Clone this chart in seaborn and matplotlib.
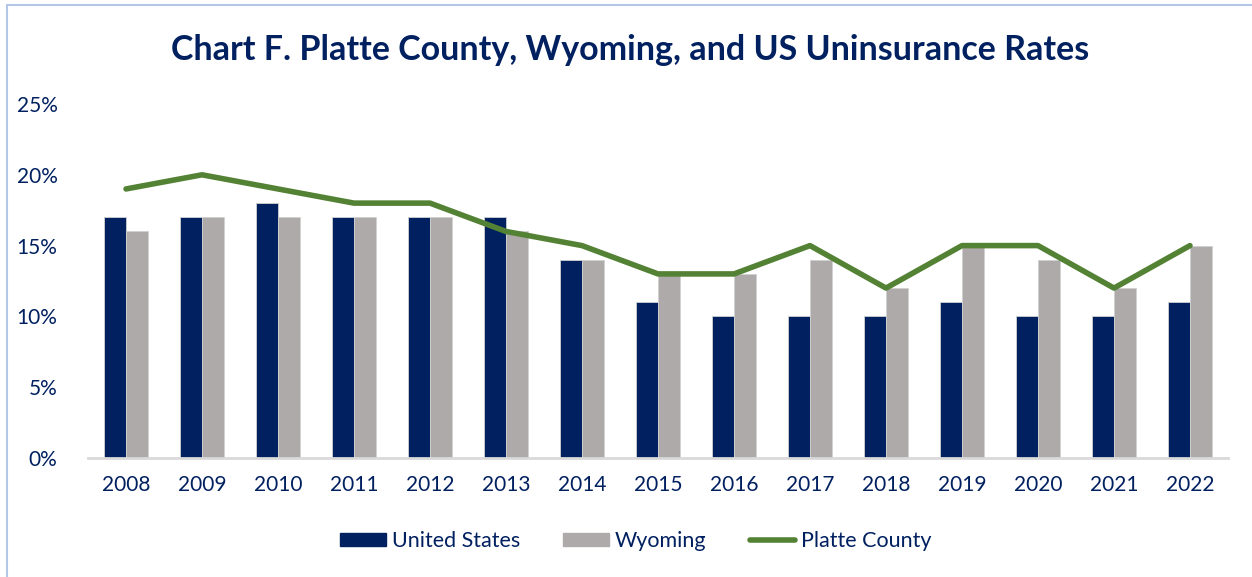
import matplotlib
matplotlib.use("Agg")
import matplotlib.pyplot as plt
import matplotlib.patches as mpatches
from matplotlib.lines import Line2D
from matplotlib.ticker import FuncFormatter
import pandas as pd
import seaborn as sns

# Data
years = ["2008", "2009", "2010", "2011", "2012", "2013", "2014", "2015",
         "2016", "2017", "2018", "2019", "2020", "2021", "2022"]
us_rate = [17, 17, 18, 17, 17, 17, 14, 11, 10, 10, 10, 11, 10, 10, 11]
wy_rate = [16, 17, 17, 17, 17, 16, 14, 13, 13, 14, 12, 15, 14, 12, 15]
platte_rate = [19, 20, 19, 18, 18, 16, 15, 13, 13, 15, 12, 15, 15, 12, 15]

navy = "#002060"
grey = "#AEAAAA"
green = "#548235"

bars = pd.DataFrame({
    "year": years * 2,
    "rate": us_rate + wy_rate,
    "series": ["United States"] * len(years) + ["Wyoming"] * len(years),
})
line = pd.DataFrame({"pos": list(range(len(years))), "rate": platte_rate})

sns.set_theme(style="white")
plt.rcParams["font.family"] = ["Lato", "DejaVu Sans"]

fig = plt.figure(figsize=(12.52, 5.77), dpi=100)
ax = fig.add_axes([88 / 1252, 1 - 458 / 577, 1140 / 1252, (458 - 104) / 577])

sns.barplot(data=bars, x="year", y="rate", hue="series",
            palette=[navy, grey], width=0.58, ax=ax, legend=False,
            edgecolor="#D0D0D0", linewidth=0.6, saturation=1)
sns.lineplot(data=line, x="pos", y="rate", color=green, linewidth=4,
             ax=ax, legend=False)

ax.set_ylim(0, 25)
ax.set_xlim(-0.5, len(years) - 0.5)
ax.set_yticks(range(0, 26, 5))
ax.yaxis.set_major_formatter(FuncFormatter(lambda v, p: f"{v:.0f}%"))
ax.set_xlabel("")
ax.set_ylabel("")
ax.tick_params(axis="both", length=0, labelsize=15, colors=navy)
ax.tick_params(axis="y", pad=22)
ax.tick_params(axis="x", pad=12)
for s in ["top", "right", "left"]:
    ax.spines[s].set_visible(False)
ax.spines["bottom"].set_color("#D9D9D9")
ax.spines["bottom"].set_linewidth(2)

fig.text(0.503, 1 - 50 / 577, "Chart F. Platte County, Wyoming, and US Uninsurance Rates",
         ha="center", va="center", fontsize=24.5, fontweight="bold", color=navy)

handles = [
    mpatches.Patch(color=navy, label="United States"),
    mpatches.Patch(color=grey, label="Wyoming"),
    Line2D([0], [0], color=green, linewidth=4, solid_capstyle="round", label="Platte County"),
]
fig.legend(handles=handles, loc="center", bbox_to_anchor=(0.508, 1 - 541 / 577),
           ncol=3, frameon=False, fontsize=15.5, labelcolor=navy,
           handlelength=2.1, handleheight=0.6, handletextpad=0.3, columnspacing=2.0)

# light blue chart-area border (left and top visible)
fig.patches.append(mpatches.Rectangle((7 / 1252, -0.1), 1.2, 1 - 5 / 577 + 0.1,
                                      transform=fig.transFigure, fill=False,
                                      edgecolor="#B4C7E7", linewidth=1.5))

fig.savefig("out.png", dpi=100)
